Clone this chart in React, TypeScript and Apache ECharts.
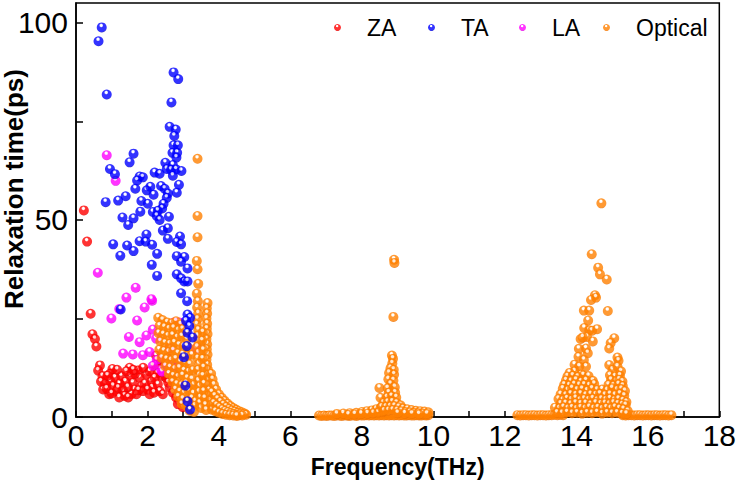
import React, { useEffect, useRef } from "react";
import * as echarts from "echarts";

// Axis ticks and labels
const xTickValues = [0, 1, 2, 3, 4, 5, 6, 7, 8, 9, 10, 11, 12, 13, 14, 15, 16, 17, 18];
const xLabelValues = [0, 2, 4, 6, 8, 10, 12, 14, 16, 18];
const yTickValues = [0, 25, 50, 75, 100];
const yLabelValues = [0, 50, 100];

const seriesNames = ["ZA", "TA", "LA", "Optical"];

// [frequency (THz), relaxation time (ps)]
const zaPoints: [number, number][] = [
  [0.22, 52.4], [0.31, 44.5], [0.41, 26.2], [0.46, 21.0], [0.53, 19.8], [0.57, 17.9],
  [0.67, 13.1], [0.62, 11.8], [0.74, 10.4], [0.81, 8.5], [0.76, 7.0], [0.95, 11.0], [0.96, 9.1],
  [0.93, 5.8], [1.09, 10.0], [1.04, 7.9], [1.13, 6.6], [1.22, 8.5], [1.27, 10.4], [1.32, 6.6],
  [1.36, 5.4], [1.21, 5.0], [1.50, 12.5], [1.52, 10.4], [1.59, 8.7], [1.64, 7.0], [1.55, 5.8],
  [1.46, 5.0], [1.73, 11.8], [1.78, 10.0], [1.83, 7.9], [1.69, 5.8], [1.87, 6.6], [1.92, 8.5],
  [1.97, 10.8], [2.06, 11.6], [2.11, 9.1], [2.13, 7.5], [2.06, 5.8], [2.24, 13.3], [2.29, 11.2],
  [2.20, 10.0], [2.29, 8.3], [2.34, 6.6], [2.43, 5.8], [2.48, 12.9], [2.52, 10.0], [2.62, 7.5],
  [2.71, 6.2], [2.80, 5.0], [2.85, 3.3], [2.99, 2.5], [2.24, 15.6], [2.38, 14.3], [2.55, 15.0],
  [1.38, 9.0], [1.45, 7.6], [1.02, 12.2], [1.15, 12.0], [1.65, 11.0], [1.88, 12.5], [2.40, 10.5],
  [2.68, 9.5], [2.75, 11.0], [0.88, 10.5], [0.70, 9.0], [0.86, 7.2], [1.00, 6.0], [1.18, 7.4],
  [1.41, 11.6], [1.60, 12.0], [1.75, 6.8], [2.00, 7.0], [2.18, 6.2], [2.58, 8.8], [2.90, 4.2],
];

const taPoints: [number, number][] = [
  [0.72, 98.8], [0.63, 95.3], [0.86, 81.8],
  [2.73, 87.4], [2.86, 85.7], [2.67, 79.8], [2.62, 73.6], [2.79, 72.9], [2.75, 71.3], [2.73, 68.9],
  [2.85, 68.9], [2.70, 67.0], [2.83, 67.0], [2.81, 65.8],
  [1.61, 66.8], [1.50, 64.6], [0.95, 62.9], [1.09, 61.6], [1.78, 61.0], [1.87, 60.8], [1.71, 60.0],
  [2.20, 62.0], [2.34, 61.7], [2.50, 64.5], [2.71, 63.9], [2.54, 62.9], [2.66, 62.7], [2.80, 62.8],
  [2.95, 62.4], [2.71, 61.2], [2.88, 58.9], [2.82, 56.9], [1.66, 57.9], [1.98, 57.5], [2.08, 58.4],
  [2.17, 56.4], [2.38, 58.6], [2.48, 57.9], [2.57, 56.7], [1.39, 56.0], [1.18, 54.9], [0.83, 54.5],
  [1.83, 54.8], [2.01, 54.1], [2.54, 55.6], [2.45, 54.1], [2.41, 52.9], [1.80, 52.1], [2.15, 52.0],
  [2.29, 52.3], [2.26, 51.0], [2.34, 50.0], [2.60, 50.8], [1.30, 50.6], [1.46, 48.7], [1.61, 50.4],
  [2.43, 47.3], [2.57, 47.9], [1.97, 46.3], [1.78, 44.6], [1.95, 44.5], [2.13, 43.7], [2.57, 45.2],
  [2.91, 45.8], [2.82, 44.4], [2.94, 43.8], [1.04, 43.8], [1.43, 43.5], [1.61, 42.1], [1.24, 40.9],
  [2.27, 41.4], [2.12, 38.6], [2.27, 35.8], [2.82, 40.8], [3.03, 40.6], [2.94, 39.4], [3.12, 37.7],
  [2.82, 36.2], [2.94, 35.2], [3.03, 34.4], [3.12, 34.4], [2.94, 31.4], [3.11, 29.4],
  [3.12, 26.0], [3.19, 25.2], [3.08, 24.4], [3.17, 23.1], [3.12, 21.4], [3.26, 20.2], [3.10, 18.0],
  [3.02, 15.2], [3.06, 8.0], [3.12, 4.0], [3.19, 1.9], [1.25, 27.3],
];

const laPoints: [number, number][] = [
  [0.86, 66.4], [1.11, 59.9], [0.61, 36.6], [1.67, 32.8], [1.41, 30.3], [2.13, 29.5], [1.92, 27.8],
  [1.21, 27.4], [0.99, 25.0], [1.71, 24.5], [1.48, 20.3], [1.78, 19.0], [1.97, 20.7], [2.15, 22.2],
  [1.32, 16.1], [1.59, 15.9], [1.87, 15.7], [2.06, 16.5], [2.26, 14.5], [2.38, 12.0], [2.15, 13.0],
  [2.41, 11.5], [2.24, 19.9], [2.75, 24.0], [2.89, 24.0], [2.71, 12.8], [2.85, 14.0], [3.36, 17.4],
  [2.11, 29.9], [2.55, 13.5], [2.62, 17.5],
];

const opticalPoints: [number, number][] = [
  // 2.3 – 3.3 THz cloud
  [2.30, 25.2], [2.42, 24.6], [2.55, 24.0], [2.68, 23.8], [2.80, 24.3], [2.93, 23.5],
  [2.34, 23.2], [2.47, 22.8], [2.60, 22.4], [2.73, 22.6], [2.86, 22.0], [2.98, 22.3], [3.08, 21.6],
  [2.31, 21.3], [2.44, 21.0], [2.57, 20.6], [2.70, 20.8], [2.83, 20.2], [2.96, 20.5], [3.10, 19.8],
  [2.36, 19.2], [2.49, 18.8], [2.62, 18.6], [2.75, 18.9], [2.88, 18.3], [3.01, 18.0], [3.14, 17.6],
  [2.33, 17.1], [2.46, 16.8], [2.59, 16.5], [2.72, 16.9], [2.85, 16.2], [2.98, 15.9], [3.12, 15.5], [3.24, 15.8],
  [2.40, 15.0], [2.53, 14.7], [2.66, 14.4], [2.79, 14.8], [2.92, 14.0], [3.05, 13.7], [3.18, 13.4],
  [2.50, 12.9], [2.63, 12.6], [2.76, 12.2], [2.89, 12.5], [3.02, 11.8], [3.15, 11.5], [3.27, 11.9],
  [2.60, 11.0], [2.72, 10.5], [2.85, 10.2], [2.98, 10.6], [3.11, 9.9], [3.24, 9.6],
  [2.70, 8.9], [2.82, 8.4], [2.95, 8.1], [3.08, 8.6], [3.20, 7.8], [3.30, 8.2],
  [2.78, 7.0], [2.90, 6.5], [3.03, 6.1], [3.15, 6.7], [3.28, 6.0],
  [2.86, 5.2], [2.99, 4.6], [3.12, 4.2], [3.24, 4.8], [3.34, 4.0],
  [2.96, 3.3], [3.09, 2.8], [3.22, 2.4], [3.33, 2.9], [3.18, 1.6], [3.30, 1.3],
  // columns near 3.4 – 3.7 THz
  [3.40, 65.5], [3.40, 51.0], [3.40, 45.6], [3.38, 39.6], [3.40, 37.5], [3.42, 33.8], [3.38, 31.3],
  [3.41, 29.4], [3.39, 27.8], [3.42, 26.3], [3.40, 24.9], [3.38, 23.5], [3.42, 22.1], [3.40, 20.6],
  [3.43, 19.2], [3.39, 17.8], [3.42, 16.3], [3.40, 14.9], [3.44, 13.5], [3.41, 12.0], [3.45, 10.6],
  [3.42, 9.2], [3.46, 7.8], [3.44, 6.4], [3.48, 5.0], [3.46, 3.6], [3.50, 2.3],
  [3.68, 28.9], [3.66, 27.6], [3.67, 26.3], [3.65, 25.0], [3.67, 23.7], [3.66, 22.4], [3.68, 21.1],
  [3.65, 19.8], [3.67, 18.5], [3.66, 17.2], [3.68, 15.9], [3.65, 14.6], [3.67, 13.3], [3.69, 12.0],
  [3.66, 10.7], [3.70, 9.4], [3.68, 8.1], [3.72, 6.8], [3.70, 5.5], [3.74, 4.2], [3.76, 3.0], [3.80, 1.9],
  [3.55, 21.5], [3.53, 19.4], [3.56, 17.0], [3.54, 14.8], [3.57, 12.6], [3.55, 10.5], [3.58, 8.5],
  [3.57, 6.6], [3.60, 4.8], [3.62, 3.1], [3.64, 1.8],
  // decaying tail to 4.8 THz
  [3.78, 11.0], [3.82, 9.6], [3.86, 8.2], [3.92, 7.0], [4.00, 5.8], [4.08, 4.9], [4.16, 4.1],
  [4.24, 3.4], [4.32, 2.8], [4.40, 2.3], [4.48, 1.9], [4.56, 1.5], [4.64, 1.2], [4.72, 0.9],
  [3.80, 6.3], [3.88, 5.4], [3.96, 4.6], [4.04, 3.9], [4.12, 3.2], [4.20, 2.6], [4.28, 2.1],
  [4.36, 1.7], [4.44, 1.4], [4.52, 1.1], [4.60, 0.9], [4.68, 0.7], [4.76, 0.6],
  [3.85, 3.6], [3.93, 3.0], [4.01, 2.5], [4.09, 2.0], [4.17, 1.6], [4.25, 1.3], [4.33, 1.0],
  [4.41, 0.8], [4.49, 0.6], [4.57, 0.5], [4.65, 0.4],
  [3.90, 1.5], [4.00, 1.1], [4.10, 0.8], [4.20, 0.6], [4.30, 0.5], [4.40, 0.4], [4.50, 0.3],
  // 6.8 – 9.9 THz band
  [6.80, 0.4], [6.87, 0.3], [6.94, 0.4], [7.01, 0.3], [7.08, 0.4], [7.15, 0.4], [7.22, 0.3],
  [7.29, 0.4], [7.36, 0.4], [7.43, 0.3], [7.50, 0.4], [7.57, 0.4], [7.64, 0.3], [7.71, 0.4],
  [7.78, 0.4], [7.85, 0.3], [7.92, 0.5], [7.99, 0.4], [8.06, 0.4], [8.13, 0.5], [8.20, 0.4],
  [8.27, 0.5], [8.34, 0.4], [8.41, 0.5], [8.48, 0.4], [8.55, 0.5], [8.62, 0.4], [8.69, 0.5],
  [8.76, 0.4], [8.83, 0.5], [8.90, 0.4], [8.97, 0.5], [9.04, 0.4], [9.11, 0.5], [9.18, 0.4],
  [9.25, 0.4], [9.32, 0.5], [9.39, 0.4], [9.46, 0.4], [9.53, 0.5], [9.60, 0.4], [9.67, 0.4],
  [9.74, 0.5], [9.80, 0.4], [9.86, 0.5],
  [7.30, 0.8], [7.48, 0.9], [7.66, 1.0], [7.84, 1.1], [8.00, 1.3], [8.14, 1.5], [8.28, 1.7],
  [8.40, 2.0], [8.52, 2.3], [7.62, 0.6], [7.80, 0.7], [7.98, 0.8], [8.16, 0.9], [8.32, 1.0],
  [8.46, 1.2], [8.60, 1.4],
  [8.90, 39.9], [8.91, 39.1], [8.88, 25.4], [8.84, 15.6], [8.87, 14.8], [8.85, 13.6], [8.80, 12.4],
  [8.89, 12.0], [8.76, 11.2], [8.90, 10.8], [8.74, 9.6], [8.88, 9.3], [8.80, 8.4], [8.49, 7.4],
  [8.72, 7.3], [8.92, 7.6], [8.75, 6.2], [8.93, 6.2], [8.52, 4.9], [8.70, 5.0], [8.83, 5.3],
  [8.96, 5.0], [8.60, 3.6], [8.72, 3.8], [8.85, 3.9], [8.97, 3.6], [9.08, 3.0], [8.55, 2.6],
  [8.67, 2.6], [8.79, 2.7], [8.91, 2.8], [9.03, 2.5], [9.15, 2.2], [9.27, 2.0], [9.39, 1.8],
  [9.51, 1.6], [9.63, 1.5], [9.75, 1.4], [9.86, 1.2], [8.62, 1.6], [8.74, 1.7], [8.86, 1.8],
  [8.98, 1.7], [9.10, 1.5], [9.22, 1.3], [9.34, 1.2], [9.46, 1.1], [9.58, 1.0], [9.70, 0.9],
  [9.82, 0.8], [9.20, 0.9], [9.40, 0.8], [9.60, 0.7], [9.00, 1.0],
  // 12.3 – 16.7 THz band
  [12.35, 0.5], [12.43, 0.4], [12.51, 0.5], [12.59, 0.5], [12.67, 0.4], [12.75, 0.5], [12.83, 0.5],
  [12.91, 0.4], [12.99, 0.5], [13.07, 0.5], [13.15, 0.4], [13.23, 0.5], [13.31, 0.5], [13.39, 0.6],
  [13.47, 0.5], [13.55, 0.6], [13.63, 0.5],
  [15.30, 0.5], [15.38, 0.4], [15.46, 0.5], [15.54, 0.5], [15.62, 0.4], [15.70, 0.5], [15.78, 0.5],
  [15.86, 0.4], [15.94, 0.5], [16.02, 0.5], [16.10, 0.4], [16.18, 0.5], [16.26, 0.5], [16.34, 0.4],
  [16.42, 0.5], [16.50, 0.5], [16.58, 0.4], [16.66, 0.5],
  [14.70, 54.2], [14.43, 41.3], [14.61, 37.9], [14.66, 36.2], [14.85, 34.9], [14.52, 30.9],
  [14.41, 29.7], [14.55, 30.3], [14.21, 27.0], [14.36, 27.0], [14.88, 26.9], [14.33, 24.5],
  [14.22, 22.6], [14.36, 22.0], [14.44, 21.9], [14.58, 22.3], [14.12, 19.8], [14.30, 20.3],
  [14.46, 19.2], [14.18, 20.2], [15.06, 20.0], [14.96, 18.8], [14.92, 17.4], [14.07, 17.3],
  [14.27, 17.4], [14.32, 16.2], [14.06, 15.3], [14.21, 14.5], [15.15, 15.1], [15.18, 14.3],
  [13.95, 13.3], [14.08, 12.8], [14.27, 12.8], [13.95, 11.6], [13.81, 11.2], [14.13, 10.8],
  [14.92, 13.2], [15.01, 12.0], [15.15, 12.8], [15.25, 11.6],
  [13.75, 10.3], [13.90, 10.5], [14.04, 10.2], [14.20, 10.6], [14.34, 10.4], [14.94, 10.6],
  [15.08, 10.3], [15.22, 10.5],
  [13.71, 9.3], [13.85, 9.1], [13.99, 9.4], [14.13, 9.0], [14.27, 9.3], [14.46, 9.2], [14.97, 9.4],
  [15.11, 9.1], [15.20, 9.5], [15.29, 9.0],
  [13.66, 8.2], [13.80, 8.0], [13.94, 8.3], [14.08, 8.1], [14.22, 8.2], [14.36, 8.0], [14.50, 8.4],
  [14.90, 8.2], [15.04, 8.0], [15.18, 8.3], [15.30, 7.9],
  [13.62, 7.2], [13.76, 6.8], [13.88, 7.3], [14.02, 6.9], [14.16, 7.1], [14.30, 6.7], [14.44, 7.2],
  [14.58, 6.9], [14.72, 7.0], [14.86, 6.8], [15.00, 7.3], [15.14, 6.9], [15.26, 7.1], [15.36, 6.6],
  [13.56, 5.8], [13.70, 5.6], [13.84, 5.9], [13.98, 5.7], [14.12, 5.9], [14.26, 5.6], [14.40, 5.8],
  [14.54, 5.7], [14.66, 5.9], [14.80, 5.6], [14.94, 5.8], [15.08, 5.6], [15.22, 5.9], [15.34, 5.4],
  [13.50, 4.6], [13.62, 4.3], [13.74, 4.7], [13.86, 4.4], [13.98, 4.8], [14.10, 4.3], [14.22, 4.6],
  [14.34, 4.4], [14.46, 4.7], [14.58, 4.3], [14.70, 4.6], [14.82, 4.4], [14.94, 4.7], [15.06, 4.3],
  [15.18, 4.6], [15.30, 4.2], [15.40, 3.8],
  [13.56, 3.4], [13.70, 3.5], [13.84, 3.3], [13.98, 3.6], [14.12, 3.4], [14.26, 3.5], [14.40, 3.3],
  [14.54, 3.6], [14.68, 3.4], [14.80, 3.5], [14.92, 3.3], [15.04, 3.6], [15.16, 3.4], [15.28, 3.2],
  [15.38, 3.0],
  [13.40, 2.4], [13.52, 2.2], [13.64, 2.5], [13.76, 2.2], [13.88, 2.4], [14.00, 2.1], [14.12, 2.4],
  [14.24, 2.2], [14.36, 2.5], [14.48, 2.2], [14.60, 2.4], [14.72, 2.1], [14.84, 2.4], [14.96, 2.2],
  [15.08, 2.5], [15.20, 2.2], [15.32, 2.0], [15.44, 1.5],
  [13.46, 1.1], [13.60, 1.0], [13.74, 1.2], [13.88, 1.0], [14.02, 1.1], [14.16, 0.9], [14.30, 1.1],
  [14.44, 1.0], [14.58, 1.2], [14.72, 0.9], [14.86, 1.1], [15.00, 1.0], [15.14, 1.1], [15.28, 0.9],
  [15.40, 0.8],
];

const FONT = '"Liberation Sans", Arial, sans-serif';

// Shaded sphere fill for the markers
function sphere(base: string, dark: string) {
  return {
    type: "radial",
    x: 0.45,
    y: 0.3,
    r: 0.75,
    colorStops: [
      { offset: 0, color: "#ffffff" },
      { offset: 0.14, color: "#ffffff" },
      { offset: 0.3, color: base },
      { offset: 0.8, color: base },
      { offset: 1, color: dark },
    ],
  };
}

const seriesStyles = [
  { data: zaPoints, fill: sphere("#ff0000", "#b00000"), z: 2 },
  { data: taPoints, fill: sphere("#0000ff", "#000090"), z: 4 },
  { data: laPoints, fill: sphere("#ff00ff", "#b000b0"), z: 3 },
  { data: opticalPoints, fill: sphere("#ff8000", "#d86000"), z: 3 },
];

// Horizontal position of each legend marker
const legendLeft = [334, 428, 519, 603];

export default function App() {
  const ref = useRef<HTMLDivElement>(null);

  useEffect(() => {
    if (!ref.current) return;
    const chart = echarts.init(ref.current, undefined, { renderer: "svg" });

    chart.setOption({
      animation: false,
      backgroundColor: "#ffffff",
      grid: {
        left: 76,
        right: 16,
        top: 3,
        bottom: 60,
        show: true,
        borderColor: "#000",
        borderWidth: 1.5,
        backgroundColor: "transparent",
      },
      legend: seriesNames.map((name, i) => ({
        data: [name],
        left: legendLeft[i],
        top: 16,
        padding: 0,
        icon: "circle",
        itemWidth: 7,
        itemHeight: 7,
        textStyle: {
          fontSize: 23,
          fontFamily: FONT,
          color: "#000",
          padding: [0, 0, 0, 21],
        },
      })),
      xAxis: {
        type: "value",
        min: 0,
        max: 18,
        name: "Frequency(THz)",
        nameLocation: "middle",
        nameGap: 30,
        nameTextStyle: { fontSize: 23, fontWeight: "bold", fontFamily: FONT, color: "#000" },
        axisLine: { onZero: false, lineStyle: { color: "#000", width: 1.5 } },
        axisTick: { inside: true, length: 6, customValues: xTickValues, lineStyle: { color: "#000", width: 1.5 } },
        axisLabel: { customValues: xLabelValues, fontSize: 30, fontFamily: FONT, color: "#000", margin: 3 },
        splitLine: { show: false },
      },
      yAxis: {
        type: "value",
        min: 0,
        max: 105,
        axisLine: { onZero: false, lineStyle: { color: "#000", width: 1.5 } },
        axisTick: { inside: true, length: 7, customValues: yTickValues, lineStyle: { color: "#000", width: 1.5 } },
        axisLabel: { customValues: yLabelValues, fontSize: 30, fontFamily: FONT, color: "#000", margin: 8 },
        splitLine: { show: false },
      },
      graphic: [
        {
          type: "text",
          x: 14,
          y: 189,
          rotation: Math.PI / 2,
          style: {
            text: "Relaxation time(ps)",
            fontSize: 26,
            fontWeight: "bold",
            fontFamily: FONT,
            fill: "#000",
            align: "center",
            verticalAlign: "middle",
          },
        },
      ],
      series: seriesStyles.map((s, i) => ({
        name: seriesNames[i],
        type: "scatter",
        data: s.data,
        symbol: "circle",
        symbolSize: 10,
        z: s.z,
        itemStyle: { color: s.fill },
        emphasis: { disabled: true },
      })),
    });

    return () => chart.dispose();
  }, []);

  return (
    <div
      ref={ref}
      style={{ position: "fixed", left: 0, top: 0, width: 739, height: 483, background: "#fff" }}
    />
  );
}
